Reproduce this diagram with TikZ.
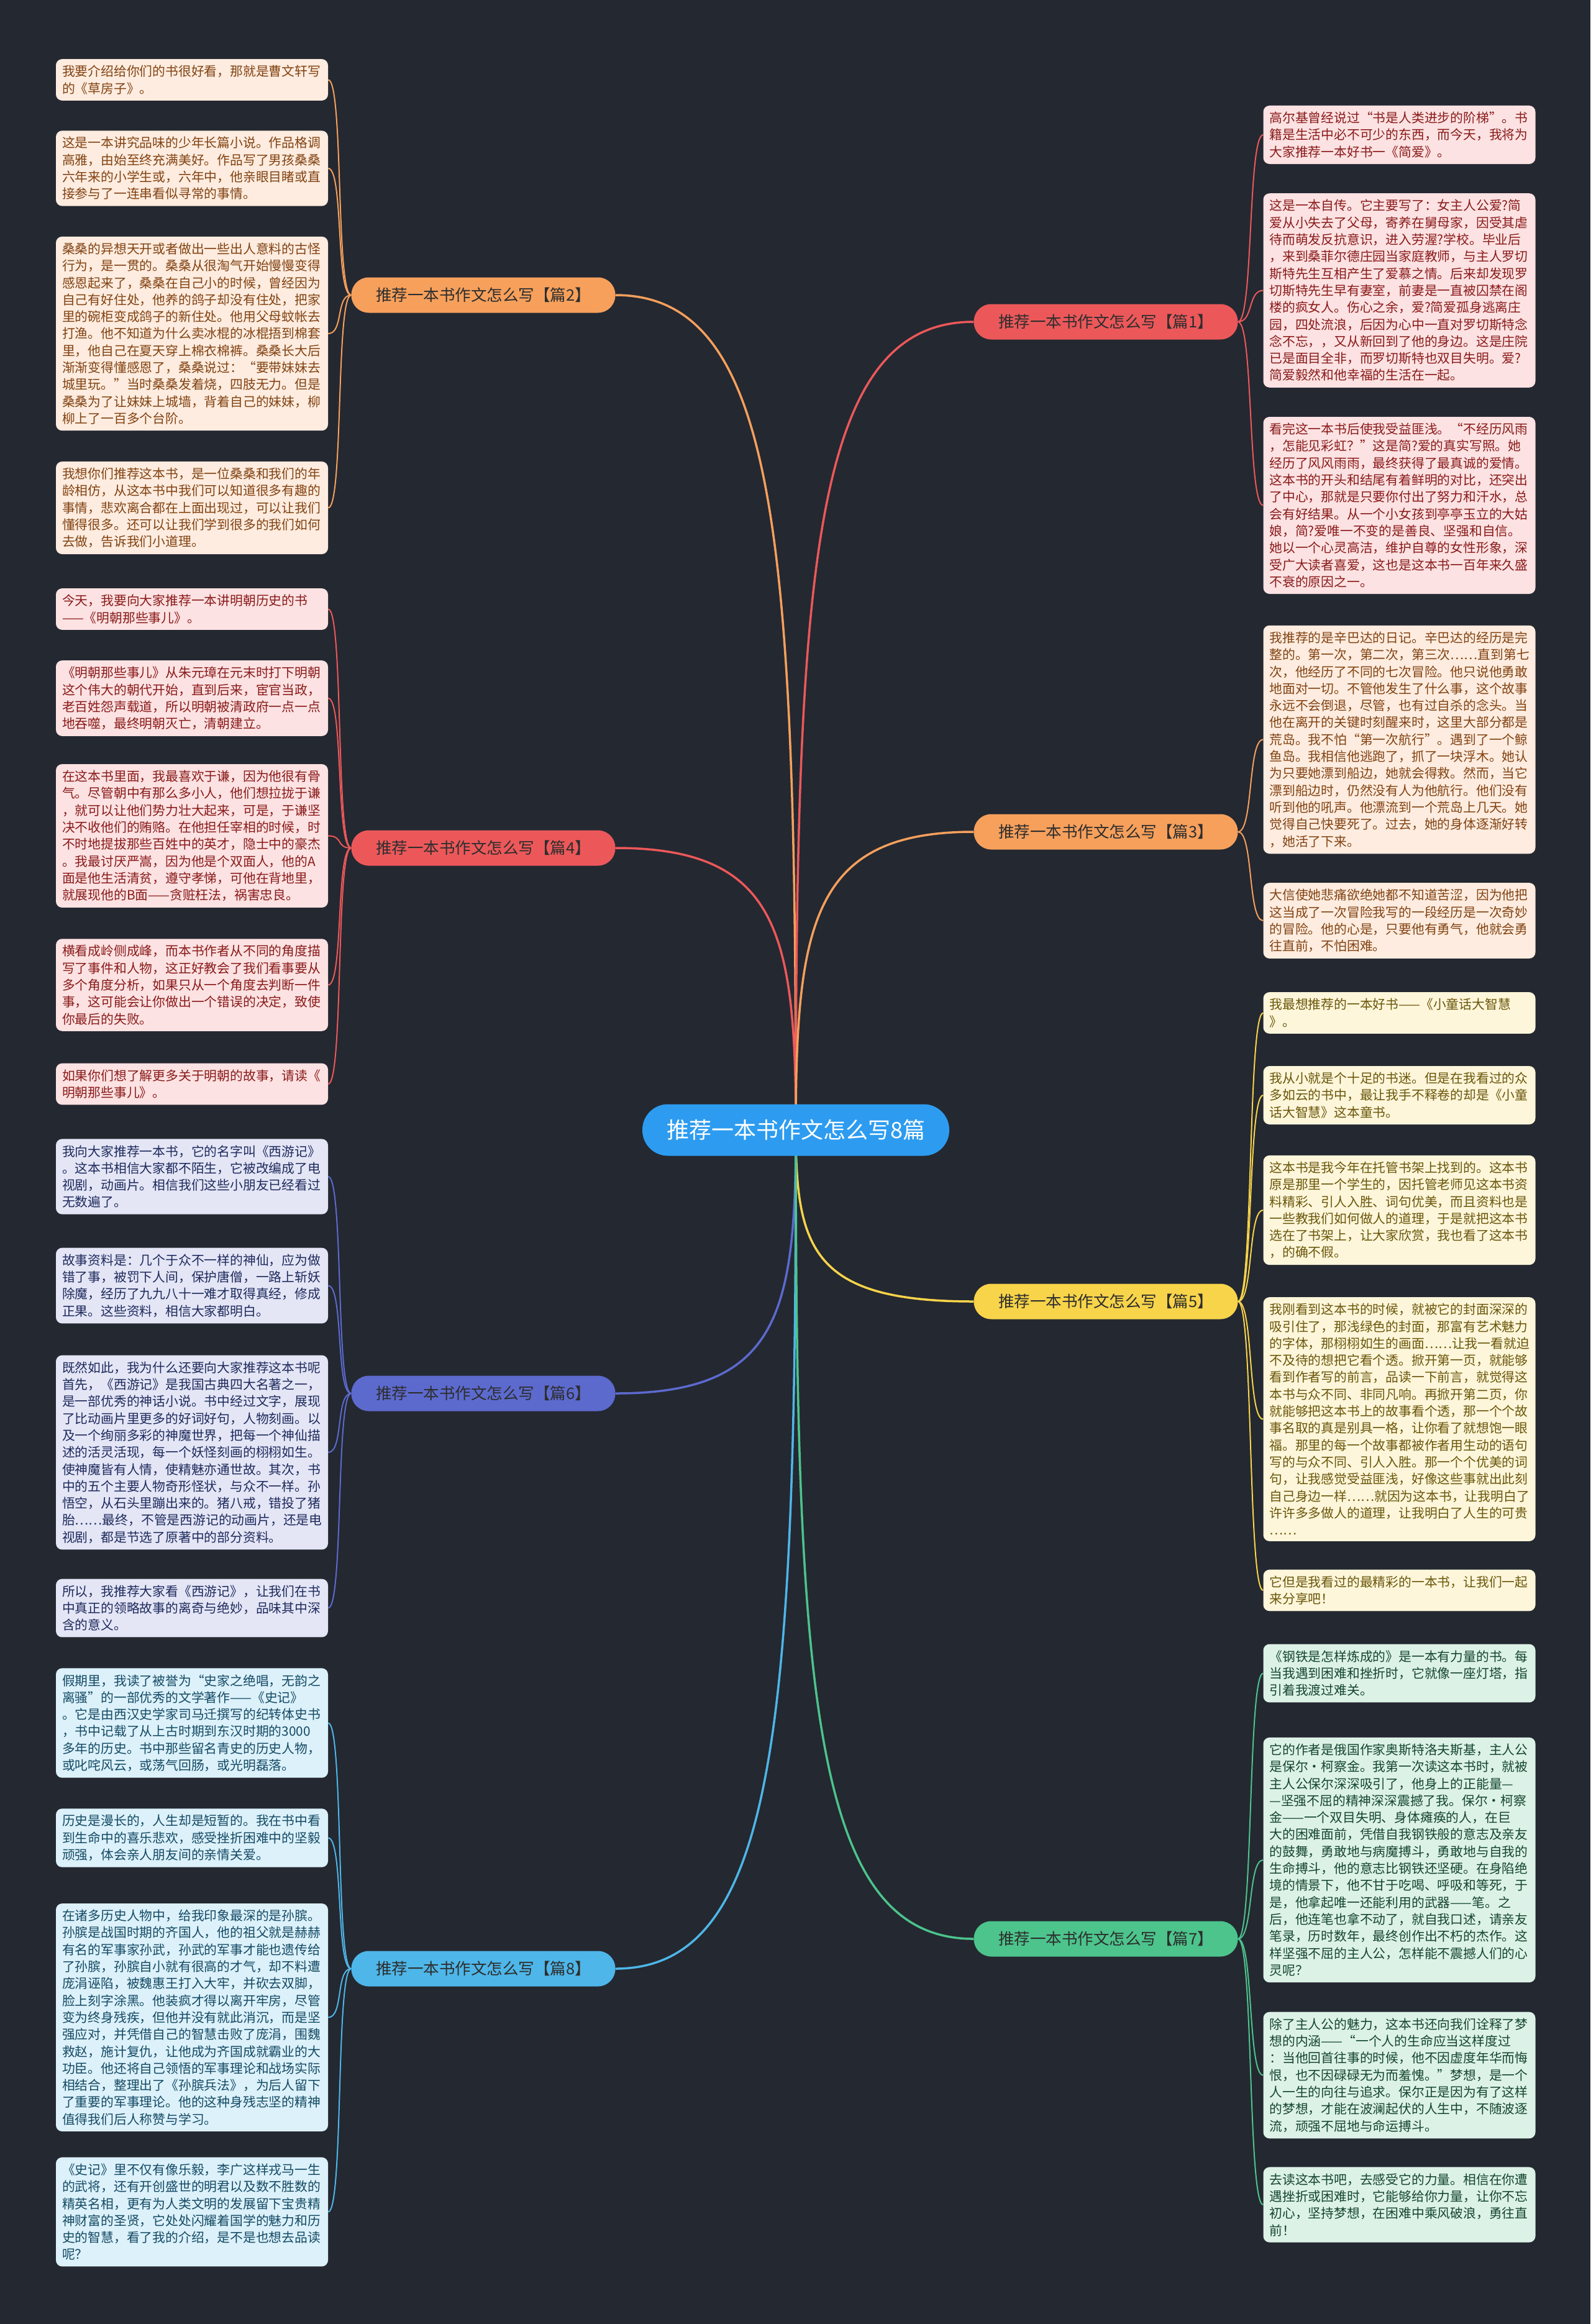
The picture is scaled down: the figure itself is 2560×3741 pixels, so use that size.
\documentclass[tikz,border=0pt]{standalone}
\usepackage{fontspec}
\setmainfont{Noto Sans CJK SC}
\usetikzlibrary{backgrounds}
\definecolor{bg}{RGB}{36,40,49}
\definecolor{cOr}{RGB}{246,160,92}
\definecolor{cRd}{RGB}{236,88,90}
\definecolor{cIn}{RGB}{92,106,206}
\definecolor{cSk}{RGB}{78,182,232}
\definecolor{cYe}{RGB}{248,212,74}
\definecolor{cGr}{RGB}{76,196,140}
\definecolor{cCe}{RGB}{45,156,240}
\definecolor{fOr}{RGB}{253,236,223}
\definecolor{tOr}{RGB}{130,66,18}
\definecolor{fRd}{RGB}{252,226,226}
\definecolor{tRd}{RGB}{138,26,26}
\definecolor{fIn}{RGB}{228,230,246}
\definecolor{tIn}{RGB}{30,42,92}
\definecolor{fSk}{RGB}{220,241,250}
\definecolor{tSk}{RGB}{20,74,100}
\definecolor{fYe}{RGB}{253,246,218}
\definecolor{tYe}{RGB}{106,86,10}
\definecolor{fGr}{RGB}{221,242,231}
\definecolor{tGr}{RGB}{20,70,46}
\definecolor{tLb}{RGB}{45,45,45}
\newcommand{\leaffont}{\fontsize{20.8}{27.3}\selectfont}
\newcommand{\labfont}{\fontsize{25.5}{30}\selectfont}
\newcommand{\cenfont}{\fontsize{36}{42}\selectfont}
\tikzset{
  leafbox/.style={rounded corners=10pt, inner xsep=10pt, inner ysep=10pt, align=left, text width=418pt, font=\leaffont},
  lfOr/.style={leafbox, fill=fOr, text=tOr},
  lfRd/.style={leafbox, fill=fRd, text=tRd},
  lfIn/.style={leafbox, fill=fIn, text=tIn},
  lfSk/.style={leafbox, fill=fSk, text=tSk},
  lfYe/.style={leafbox, fill=fYe, text=tYe},
  lfGr/.style={leafbox, fill=fGr, text=tGr},
  branchlab/.style={rounded corners=28pt, minimum width=425pt, minimum height=57pt, inner sep=0pt, text=tLb, font=\labfont},
  mainlink/.style={line width=3.5pt},
  leaflink/.style={line width=2pt}
}
\begin{document}
\begin{tikzpicture}[x=1pt,y=1pt]
\useasboundingbox (0,0) rectangle (2560,-3741);

% center
\node[fill=cCe, text=white, rounded corners=41pt, minimum width=494pt, minimum height=83pt, inner sep=0pt, font=\cenfont] (c) at (1281,-1819) {推荐一本书作文怎么写8篇};

% branch labels
\node[branchlab, fill=cOr] (p2) at (778,-475) {推荐一本书作文怎么写【篇2】};
\node[branchlab, fill=cRd] (p4) at (778,-1365) {推荐一本书作文怎么写【篇4】};
\node[branchlab, fill=cIn] (p6) at (778,-2243) {推荐一本书作文怎么写【篇6】};
\node[branchlab, fill=cSk] (p8) at (778,-3169) {推荐一本书作文怎么写【篇8】};
\node[branchlab, fill=cRd] (p1) at (1780,-518) {推荐一本书作文怎么写【篇1】};
\node[branchlab, fill=cOr] (p3) at (1780,-1339) {推荐一本书作文怎么写【篇3】};
\node[branchlab, fill=cYe] (p5) at (1780,-2095) {推荐一本书作文怎么写【篇5】};
\node[branchlab, fill=cGr] (p7) at (1780,-3121) {推荐一本书作文怎么写【篇7】};

% left leaves, part 2
\node[lfOr] (l1) at (309,-128.5) {我要介绍给你们的书很好看，那就是曹文轩写\\的《草房子》。};
\node[lfOr] (l2) at (309,-271) {这是一本讲究品味的少年长篇小说。作品格调\\高雅，由始至终充满美好。作品写了男孩桑桑\\六年来的小学生或，六年中，他亲眼目睹或直\\接参与了一连串看似寻常的事情。};
\node[lfOr] (l3) at (309,-537) {桑桑的异想天开或者做出一些出人意料的古怪\\行为，是一贯的。桑桑从很淘气开始慢慢变得\\感恩起来了，桑桑在自己小的时候，曾经因为\\自己有好住处，他养的鸽子却没有住处，把家\\里的碗柜变成鸽子的新住处。他用父母蚊帐去\\打渔。他不知道为什么卖冰棍的冰棍捂到棉套\\里，他自己在夏天穿上棉衣棉裤。桑桑长大后\\渐渐变得懂感恩了，桑桑说过：“要带妹妹去\\城里玩。”当时桑桑发着烧，四肢无力。但是\\桑桑为了让妹妹上城墙，背着自己的妹妹，柳\\柳上了一百多个台阶。};
\node[lfOr] (l4) at (309,-817.5) {我想你们推荐这本书，是一位桑桑和我们的年\\龄相仿，从这本书中我们可以知道很多有趣的\\事情，悲欢离合都在上面出现过，可以让我们\\懂得很多。还可以让我们学到很多的我们如何\\去做，告诉我们小道理。};

% left leaves, part 4
\node[lfRd] (l5) at (309,-980.5) {今天，我要向大家推荐一本讲明朝历史的书\\——《明朝那些事儿》。};
\node[lfRd] (l6) at (309,-1124) {《明朝那些事儿》从朱元璋在元末时打下明朝\\这个伟大的朝代开始，直到后来，宦官当政，\\老百姓怨声载道，所以明朝被清政府一点一点\\地吞噬，最终明朝灭亡，清朝建立。};
\node[lfRd] (l7) at (309,-1345.5) {在这本书里面，我最喜欢于谦，因为他很有骨\\气。尽管朝中有那么多小人，他们想拉拢于谦\\，就可以让他们势力壮大起来，可是，于谦坚\\决不收他们的贿赂。在他担任宰相的时候，时\\不时地提拔那些百姓中的英才，隐士中的豪杰\\。我最讨厌严嵩，因为他是个双面人，他的A\\面是他生活清贫，遵守孝悌，可他在背地里，\\就展现他的B面——贪赃枉法，祸害忠良。};
\node[lfRd] (l8) at (309,-1585.5) {横看成岭侧成峰，而本书作者从不同的角度描\\写了事件和人物，这正好教会了我们看事要从\\多个角度分析，如果只从一个角度去判断一件\\事，这可能会让你做出一个错误的决定，致使\\你最后的失败。};
\node[lfRd] (l9) at (309,-1745) {如果你们想了解更多关于明朝的故事，请读《\\明朝那些事儿》。};

% left leaves, part 6
\node[lfIn] (l10) at (309,-1894) {我向大家推荐一本书，它的名字叫《西游记》\\。这本书相信大家都不陌生，它被改编成了电\\视剧，动画片。相信我们这些小朋友已经看过\\无数遍了。};
\node[lfIn] (l11) at (309,-2069.5) {故事资料是：几个于众不一样的神仙，应为做\\错了事，被罚下人间，保护唐僧，一路上斩妖\\除魔，经历了九九八十一难才取得真经，修成\\正果。这些资料，相信大家都明白。};
\node[lfIn] (l12) at (309,-2338) {既然如此，我为什么还要向大家推荐这本书呢\\首先，《西游记》是我国古典四大名著之一，\\是一部优秀的神话小说。书中经过文字，展现\\了比动画片里更多的好词好句，人物刻画。以\\及一个绚丽多彩的神魔世界，把每一个神仙描\\述的活灵活现，每一个妖怪刻画的栩栩如生。\\使神魔皆有人情，使精魅亦通世故。其次，书\\中的五个主要人物奇形怪状，与众不一样。孙\\悟空，从石头里蹦出来的。猪八戒，错投了猪\\胎……最终，不管是西游记的动画片，还是电\\视剧，都是节选了原著中的部分资料。};
\node[lfIn] (l13) at (309,-2588.5) {所以，我推荐大家看《西游记》，让我们在书\\中真正的领略故事的离奇与绝妙，品味其中深\\含的意义。};

% left leaves, part 8
\node[lfSk] (l14) at (309,-2773.5) {假期里，我读了被誉为“史家之绝唱，无韵之\\离骚”的一部优秀的文学著作——《史记》\\。它是由西汉史学家司马迁撰写的纪转体史书\\，书中记载了从上古时期到东汉时期的3000\\多年的历史。书中那些留名青史的历史人物，\\或叱咤风云，或荡气回肠，或光明磊落。};
\node[lfSk] (l15) at (309,-2958.5) {历史是漫长的，人生却是短暂的。我在书中看\\到生命中的喜乐悲欢，感受挫折困难中的坚毅\\顽强，体会亲人朋友间的亲情关爱。};
\node[lfSk] (l16) at (309,-3247.5) {在诸多历史人物中，给我印象最深的是孙膑。\\孙膑是战国时期的齐国人，他的祖父就是赫赫\\有名的军事家孙武，孙武的军事才能也遗传给\\了孙膑，孙膑自小就有很高的才气，却不料遭\\庞涓诬陷，被魏惠王打入大牢，并砍去双脚，\\脸上刻字涂黑。他装疯才得以离开牢房，尽管\\变为终身残疾，但他并没有就此消沉，而是坚\\强应对，并凭借自己的智慧击败了庞涓，围魏\\救赵，施计复仇，让他成为齐国成就霸业的大\\功臣。他还将自己领悟的军事理论和战场实际\\相结合，整理出了《孙膑兵法》，为后人留下\\了重要的军事理论。他的这种身残志坚的精神\\值得我们后人称赞与学习。};
\node[lfSk] (l17) at (309,-3560.5) {《史记》里不仅有像乐毅，李广这样戎马一生\\的武将，还有开创盛世的明君以及数不胜数的\\精英名相，更有为人类文明的发展留下宝贵精\\神财富的圣贤，它处处闪耀着国学的魅力和历\\史的智慧，看了我的介绍，是不是也想去品读\\呢？};

% right leaves, part 1
\node[lfRd] (r1) at (2252.5,-217) {高尔基曾经说过“书是人类进步的阶梯”。书\\籍是生活中必不可少的东西，而今天，我将为\\大家推荐一本好书一《简爱》。};
\node[lfRd] (r2) at (2252.5,-467.5) {这是一本自传。它主要写了：女主人公爱?简\\爱从小失去了父母，寄养在舅母家，因受其虐\\待而萌发反抗意识，进入劳渥?学校。毕业后\\，来到桑菲尔德庄园当家庭教师，与主人罗切\\斯特先生互相产生了爱慕之情。后来却发现罗\\切斯特先生早有妻室，前妻是一直被囚禁在阁\\楼的疯女人。伤心之余，爱?简爱孤身逃离庄\\园，四处流浪，后因为心中一直对罗切斯特念\\念不忘，，又从新回到了他的身边。这是庄院\\已是面目全非，而罗切斯特也双目失明。爱?\\简爱毅然和他幸福的生活在一起。};
\node[lfRd] (r3) at (2252.5,-813.5) {看完这一本书后使我受益匪浅。“不经历风雨\\，怎能见彩虹？”这是简?爱的真实写照。她\\经历了风风雨雨，最终获得了最真诚的爱情。\\这本书的开头和结尾有着鲜明的对比，还突出\\了中心，那就是只要你付出了努力和汗水，总\\会有好结果。从一个小女孩到亭亭玉立的大姑\\娘，简?爱唯一不变的是善良、坚强和自信。\\她以一个心灵高洁，维护自尊的女性形象，深\\受广大读者喜爱，这也是这本书一百年来久盛\\不衰的原因之一。};

% right leaves, part 3
\node[lfOr] (r4) at (2252.5,-1190.5) {我推荐的是辛巴达的日记。辛巴达的经历是完\\整的。第一次，第二次，第三次……直到第七\\次，他经历了不同的七次冒险。他只说他勇敢\\地面对一切。不管他发生了什么事，这个故事\\永远不会倒退，尽管，也有过自杀的念头。当\\他在离开的关键时刻醒来时，这里大部分都是\\荒岛。我不怕“第一次航行”。遇到了一个鲸\\鱼岛。我相信他逃跑了，抓了一块浮木。她认\\为只要她漂到船边，她就会得救。然而，当它\\漂到船边时，仍然没有人为他航行。他们没有\\听到他的吼声。他漂流到一个荒岛上几天。她\\觉得自己快要死了。过去，她的身体逐渐好转\\，她活了下来。};
\node[lfOr] (r5) at (2252.5,-1482) {大信使她悲痛欲绝她都不知道苦涩，因为他把\\这当成了一次冒险我写的一段经历是一次奇妙\\的冒险。他的心是，只要他有勇气，他就会勇\\往直前，不怕困难。};

% right leaves, part 5
\node[lfYe] (r6) at (2252.5,-1630.5) {我最想推荐的一本好书——《小童话大智慧\\》。};
\node[lfYe] (r7) at (2252.5,-1763) {我从小就是个十足的书迷。但是在我看过的众\\多如云的书中，最让我手不释卷的却是《小童\\话大智慧》这本童书。};
\node[lfYe] (r8) at (2252.5,-1948) {这本书是我今年在托管书架上找到的。这本书\\原是那里一个学生的，因托管老师见这本书资\\料精彩、引人入胜、词句优美，而且资料也是\\一些教我们如何做人的道理，于是就把这本书\\选在了书架上，让大家欣赏，我也看了这本书\\，的确不假。};
\node[lfYe] (r9) at (2252.5,-2284.5) {我刚看到这本书的时候，就被它的封面深深的\\吸引住了，那浅绿色的封面，那富有艺术魅力\\的字体，那栩栩如生的画面……让我一看就迫\\不及待的想把它看个透。掀开第一页，就能够\\看到作者写的前言，品读一下前言，就觉得这\\本书与众不同、非同凡响。再掀开第二页，你\\就能够把这本书上的故事看个透，那一个个故\\事名取的真是别具一格，让你看了就想饱一眼\\福。那里的每一个故事都被作者用生动的语句\\写的与众不同、引人入胜。那一个个优美的词\\句，让我感觉受益匪浅，好像这些事就出此刻\\自己身边一样……就因为这本书，让我明白了\\许许多多做人的道理，让我明白了人生的可贵\\……};
\node[lfYe] (r10) at (2252.5,-2560) {它但是我看过的最精彩的一本书，让我们一起\\来分享吧！};

% right leaves, part 7
\node[lfGr] (r11) at (2252.5,-2693.5) {《钢铁是怎样炼成的》是一本有力量的书。每\\当我遇到困难和挫折时，它就像一座灯塔，指\\引着我渡过难关。};
\node[lfGr] (r12) at (2252.5,-2994) {它的作者是俄国作家奥斯特洛夫斯基，主人公\\是保尔·柯察金。我第一次读这本书时，就被\\主人公保尔深深吸引了，他身上的正能量—\\—坚强不屈的精神深深震撼了我。保尔·柯察\\金——一个双目失明、身体瘫痪的人，在巨\\大的困难面前，凭借自我钢铁般的意志及亲友\\的鼓舞，勇敢地与病魔搏斗，勇敢地与自我的\\生命搏斗，他的意志比钢铁还坚硬。在身陷绝\\境的情景下，他不甘于吃喝、呼吸和等死，于\\是，他拿起唯一还能利用的武器——笔。之\\后，他连笔也拿不动了，就自我口述，请亲友\\笔录，历时数年，最终创作出不朽的杰作。这\\样坚强不屈的主人公，怎样能不震撼人们的心\\灵呢？};
\node[lfGr] (r13) at (2252.5,-3340.5) {除了主人公的魅力，这本书还向我们诠释了梦\\想的内涵——“一个人的生命应当这样度过\\：当他回首往事的时候，他不因虚度年华而悔\\恨，也不因碌碌无为而羞愧。”梦想，是一个\\人一生的向往与追求。保尔正是因为有了这样\\的梦想，才能在波澜起伏的人生中，不随波逐\\流，顽强不屈地与命运搏斗。};
\node[lfGr] (r14) at (2252.5,-3549) {去读这本书吧，去感受它的力量。相信在你遭\\遇挫折或困难时，它能够给你力量，让你不忘\\初心，坚持梦想，在困难中乘风破浪，勇往直\\前！};

\begin{scope}[on background layer]
\fill[bg] (0,0) rectangle (2560,-3741);
% center to branches
\draw[mainlink, cOr] (c.center) .. controls +(0,941) and +(262,0) .. (p2.east);
\draw[mainlink, cRd] (c.center) .. controls +(0,318) and +(262,0) .. (p4.east);
\draw[mainlink, cIn] (c.center) .. controls +(0,-297) and +(262,0) .. (p6.east);
\draw[mainlink, cSk] (c.center) .. controls +(0,-945) and +(262,0) .. (p8.east);
\draw[mainlink, cRd] (c.center) .. controls +(0,911) and +(-258,0) .. (p1.west);
\draw[mainlink, cOr] (c.center) .. controls +(0,336) and +(-258,0) .. (p3.west);
\draw[mainlink, cYe] (c.center) .. controls +(0,-193) and +(-258,0) .. (p5.west);
\draw[mainlink, cGr] (c.center) .. controls +(0,-911) and +(-258,0) .. (p7.west);
% leaves left
\foreach \b/\col/\list in {p2/cOr/{l1,l2,l3,l4}, p4/cRd/{l5,l6,l7,l8,l9}, p6/cIn/{l10,l11,l12,l13}, p8/cSk/{l14,l15,l16,l17}}{
  \foreach \l in \list {
    \draw[leaflink, \col] (\b.west) .. controls +(-25,0) and +(25,0) .. (\l.east);
  }
}
% leaves right
\foreach \b/\col/\list in {p1/cRd/{r1,r2,r3}, p3/cOr/{r4,r5}, p5/cYe/{r6,r7,r8,r9,r10}, p7/cGr/{r11,r12,r13,r14}}{
  \foreach \l in \list {
    \draw[leaflink, \col] (\b.east) .. controls +(25,0) and +(-25,0) .. (\l.west);
  }
}
\end{scope}
\end{tikzpicture}
\end{document}
